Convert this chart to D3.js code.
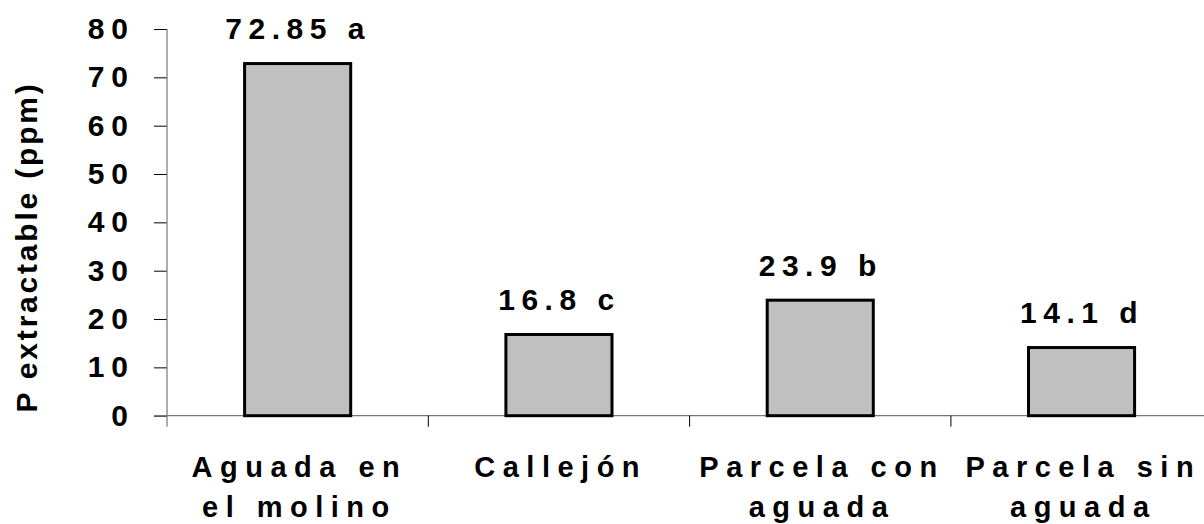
<!DOCTYPE html>
<html>
<head>
<meta charset="utf-8">
<script src="https://cdn.jsdelivr.net/npm/d3@7"></script>
<style>
  html, body { margin: 0; padding: 0; background: #fff; }
  svg { display: block; }
  text { font-family: "Liberation Sans", Arial, sans-serif; font-weight: bold; fill: #000; }
</style>
</head>
<body>
<svg id="chart" width="1204" height="524"></svg>
<script>
const categories = [["Aguada en", "el molino"], ["Callejón"], ["Parcela con", "aguada"], ["Parcela sin", "aguada"]];
const categoryKeys = ["Aguada en el molino", "Callejón", "Parcela con aguada", "Parcela sin aguada"];
const values = [72.85, 16.8, 23.9, 14.1];
const letters = ["a", "c", "b", "d"];
const yTicks = [0, 10, 20, 30, 40, 50, 60, 70, 80];
const yTitle = "P extractable (ppm)";

(function () {
const svg = d3.select("#chart");
const plotLeft = 167, plotTop = 29, plotBottom = 415.7, step = 261.3;
const pad = 0.594;

const x = d3.scaleBand().domain(categoryKeys).range([plotLeft, plotLeft + step * categoryKeys.length])
  .paddingInner(pad).paddingOuter(pad / 2);
const y = d3.scaleLinear().domain([0, 80]).range([plotBottom, plotTop]);

const axisColor = "#777";
const numSize = "30px", numLs = 7;
const catSize = "29px", catLs = 7.5;

// Y axis
const yAxis = svg.append("g").attr("transform", `translate(${plotLeft},0)`)
  .call(d3.axisLeft(y).tickValues(yTicks).tickSize(13).tickPadding(26).tickFormat(d3.format("d")));
yAxis.select(".domain").remove();
yAxis.selectAll(".tick line").attr("stroke", "#000").attr("stroke-width", 1);
yAxis.selectAll(".tick text")
  .style("font-size", numSize).style("letter-spacing", numLs + "px")
  .attr("dx", numLs + "px");
svg.append("line").attr("x1", plotLeft).attr("x2", plotLeft).attr("y1", plotTop).attr("y2", plotBottom + 11)
  .attr("stroke", axisColor).attr("stroke-width", 1.2);

// X axis baseline
svg.append("line").attr("x1", plotLeft - 13).attr("x2", 1204).attr("y1", plotBottom).attr("y2", plotBottom)
  .attr("stroke", axisColor).attr("stroke-width", 1.2);
// boundary ticks
const bounds = categoryKeys.map(c => x(c) - x.step() * pad / 2);
svg.selectAll(".xtick").data(bounds.slice(1)).enter().append("line")
  .attr("x1", d => d).attr("x2", d => d).attr("y1", plotBottom).attr("y2", plotBottom + 11)
  .attr("stroke", "#000").attr("stroke-width", 1);

// Bars
svg.selectAll(".bar").data(values).enter().append("rect")
  .attr("x", (d, i) => x(categoryKeys[i]))
  .attr("y", d => y(d))
  .attr("width", x.bandwidth())
  .attr("height", d => y(0) - y(d))
  .attr("fill", "#c0c0c0").attr("stroke", "#000").attr("stroke-width", 3);

// Value labels
svg.selectAll(".vlab").data(values).enter().append("text")
  .attr("x", (d, i) => x(categoryKeys[i]) + x.bandwidth() / 2 + numLs / 2 - 3)
  .attr("y", d => y(d) - 24.5)
  .attr("text-anchor", "middle")
  .style("font-size", numSize).style("letter-spacing", (numLs - 0.5) + "px")
  .text((d, i) => d + " " + letters[i]);

// Category labels
categories.forEach((lines, i) => {
  const cx = x(categoryKeys[i]) + x.bandwidth() / 2 + catLs / 2 - 2;
  lines.forEach((ln, j) => {
    svg.append("text").attr("x", cx).attr("y", 477 + j * 40)
      .attr("text-anchor", "middle")
      .style("font-size", catSize).style("letter-spacing", catLs + "px")
      .text(ln);
  });
});

// Y title
svg.append("text")
  .attr("transform", "translate(37,247) rotate(-90)")
  .attr("text-anchor", "middle")
  .style("font-size", "30px").style("letter-spacing", "2.8px")
  .text(yTitle);
})();
</script>
</body>
</html>
